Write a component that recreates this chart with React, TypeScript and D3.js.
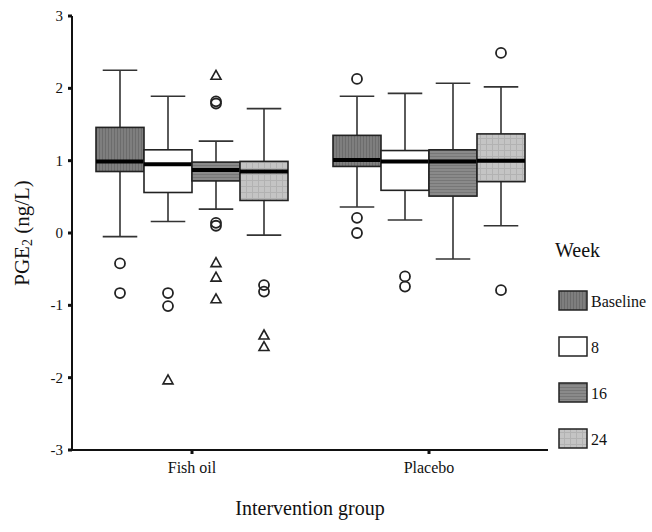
import React from "react";
import * as d3 from "d3";

const groups = ["Fish oil", "Placebo"];
const weeks = ["Baseline", "8", "16", "24"];
const yTicks = [-3, -2, -1, 0, 1, 2, 3];

// [group][week]
const whiskerLow = [
  [-0.05, 0.16, 0.33, -0.03],
  [0.36, 0.18, -0.36, 0.1],
];
const q1Values = [
  [0.85, 0.56, 0.72, 0.45],
  [0.92, 0.59, 0.51, 0.71],
];
const medianValues = [
  [0.99, 0.95, 0.87, 0.85],
  [1.01, 0.99, 0.99, 1.0],
];
const q3Values = [
  [1.46, 1.15, 0.98, 0.99],
  [1.35, 1.14, 1.15, 1.37],
];
const whiskerHigh = [
  [2.25, 1.89, 1.27, 1.72],
  [1.89, 1.93, 2.07, 2.02],
];
const circleOutliers = [
  [[-0.42, -0.83], [-0.83, -1.01], [1.82, 1.79, 0.14, 0.1], [-0.72, -0.81]],
  [[2.13, 0.21, 0.0], [-0.6, -0.74], [], [2.49, -0.79]],
];
const triangleOutliers = [
  [[], [-2.03], [2.18, -0.41, -0.61, -0.91], [-1.41, -1.57]],
  [[], [], [], []],
];

const fills = ["url(#pBase)", "#ffffff", "url(#p16)", "url(#p24)"];
const font = "'Liberation Serif', 'Times New Roman', serif";

export default function App() {
  const width = 652;
  const height = 532;
  const y = d3.scaleLinear().domain([-3, 3]).range([450, 16]);
  const gx = d3.scalePoint<string>().domain(groups).range([192, 429]);
  const wx = d3.scaleBand<string>().domain(weeks).range([-96, 96]);
  const bw = wx.bandwidth();
  const capW = bw * 0.72;
  const tri = (cx: number, cy: number) =>
    `M${cx},${cy - 5} L${cx + 5},${cy + 4} L${cx - 5},${cy + 4} Z`;

  return (
    <svg
      width={width}
      height={height}
      style={{ position: "absolute", left: 0, top: 0, background: "#fff" }}
      fontFamily={font}
    >
      <defs>
        <pattern id="pBase" width="3" height="3" patternUnits="userSpaceOnUse">
          <rect width="3" height="3" fill="#7e7e7e" />
          <rect width="1" height="3" fill="#6c6c6c" />
        </pattern>
        <pattern id="p16" width="3" height="3" patternUnits="userSpaceOnUse">
          <rect width="3" height="3" fill="#8a8a8a" />
          <rect width="3" height="1" fill="#777" />
        </pattern>
        <pattern id="p24" width="6" height="6" patternUnits="userSpaceOnUse">
          <rect width="6" height="6" fill="#c4c4c4" />
          <rect width="1" height="6" fill="#b2b2b2" />
          <rect width="6" height="1" fill="#b2b2b2" />
        </pattern>
      </defs>

      {/* Y axis */}
      <line x1={72} x2={72} y1={y(3)} y2={y(-3)} stroke="#111" strokeWidth={2} />
      {yTicks.map((t) => (
        <g key={t}>
          <rect x={68} y={y(t) - 1.5} width={4} height={3} fill="#111" />
          <text
            x={63}
            y={y(t)}
            textAnchor="end"
            dominantBaseline="central"
            fontSize={15}
            fill="#111"
          >
            {t}
          </text>
        </g>
      ))}
      {/* X axis */}
      <line x1={72} x2={548} y1={y(-3)} y2={y(-3)} stroke="#111" strokeWidth={2} />
      {groups.map((g) => (
        <g key={g}>
          <rect x={gx(g)! - 1.5} y={y(-3)} width={3} height={4} fill="#111" />
          <text
            x={gx(g)!}
            y={467}
            textAnchor="middle"
            dominantBaseline="central"
            fontSize={16}
            fill="#111"
          >
            {g}
          </text>
        </g>
      ))}
      <text x={310} y={508} textAnchor="middle" dominantBaseline="central" fontSize={20} fill="#111">
        Intervention group
      </text>
      <text
        transform={`translate(22,233) rotate(-90)`}
        textAnchor="middle"
        dominantBaseline="central"
        fontSize={21}
        fill="#111"
      >
        PGE<tspan fontSize={14} dy={5}>2</tspan>
        <tspan dy={-5}> (ng/L)</tspan>
      </text>

      {/* Boxes */}
      {groups.map((g, gi) =>
        weeks.map((w, wi) => {
          const x0 = gx(g)! + wx(w)!;
          const cx = x0 + bw / 2;
          return (
            <g key={g + w}>
              <line x1={cx} x2={cx} y1={y(whiskerHigh[gi][wi])} y2={y(q3Values[gi][wi])} stroke="#333" strokeWidth={1.6} />
              <line x1={cx} x2={cx} y1={y(q1Values[gi][wi])} y2={y(whiskerLow[gi][wi])} stroke="#333" strokeWidth={1.6} />
              <line x1={cx - capW / 2} x2={cx + capW / 2} y1={y(whiskerHigh[gi][wi])} y2={y(whiskerHigh[gi][wi])} stroke="#333" strokeWidth={1.6} />
              <line x1={cx - capW / 2} x2={cx + capW / 2} y1={y(whiskerLow[gi][wi])} y2={y(whiskerLow[gi][wi])} stroke="#333" strokeWidth={1.6} />
              <rect
                x={x0}
                y={y(q3Values[gi][wi])}
                width={bw}
                height={y(q1Values[gi][wi]) - y(q3Values[gi][wi])}
                fill={fills[wi]}
                stroke="#222"
                strokeWidth={1.6}
              />
              <line x1={x0} x2={x0 + bw} y1={y(medianValues[gi][wi])} y2={y(medianValues[gi][wi])} stroke="#000" strokeWidth={4} />
              {circleOutliers[gi][wi].map((v, i) => (
                <circle key={"c" + i} cx={cx} cy={y(v)} r={5} fill="none" stroke="#222" strokeWidth={1.8} />
              ))}
              {triangleOutliers[gi][wi].map((v, i) => (
                <path key={"t" + i} d={tri(cx, y(v))} fill="none" stroke="#222" strokeWidth={1.6} />
              ))}
            </g>
          );
        })
      )}

      {/* Legend */}
      <text x={555} y={257} fontSize={20} fill="#111">Week</text>
      {weeks.map((w, i) => {
        const ly = 291 + i * 46;
        return (
          <g key={w}>
            <rect x={559} y={ly} width={28} height={19} fill={fills[i]} stroke="#222" strokeWidth={1.5} />
            <text x={591} y={ly + 10} dominantBaseline="central" fontSize={16} fill="#111">
              {w}
            </text>
          </g>
        );
      })}
    </svg>
  );
}
